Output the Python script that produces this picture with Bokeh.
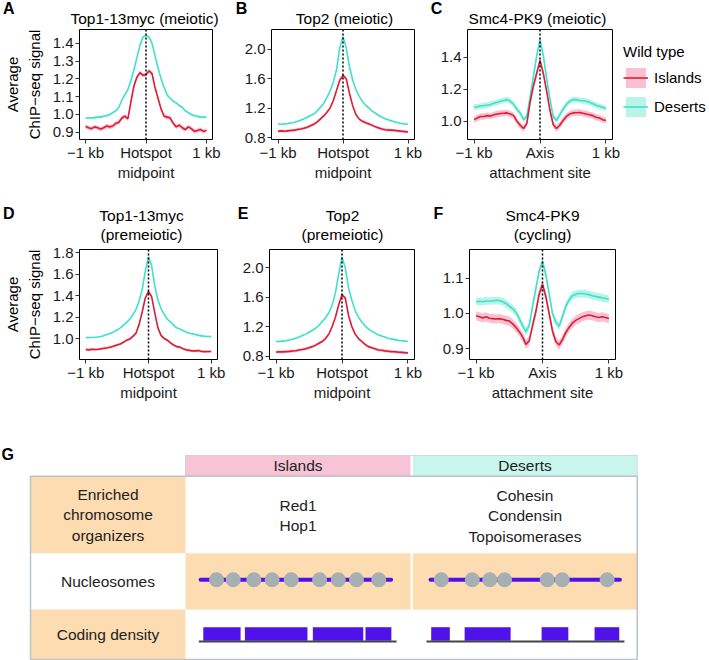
import numpy as np
from bokeh.plotting import figure
from bokeh.layouts import column, row
from bokeh.models import (Range1d, FixedTicker, PrintfTickFormatter, Span, Spacer,
                          Legend, LegendItem, ColumnDataSource)
from bokeh.core.properties import value
from bokeh.embed import file_html
from bokeh.resources import INLINE

FONT = "Liberation Sans"
TF = value(FONT)
W = 709

# ---------------- data ----------------
POS = [-1000 + 50 * i for i in range(41)]  # bp from hotspot / axis site

A_ISL = [0.932, 0.925, 0.92, 0.93, 0.925, 0.918, 0.925, 0.935, 0.93, 0.935,
         0.95, 0.955, 0.98, 0.99, 0.975, 1.07, 1.16, 1.21, 1.235, 1.22,
         1.225,
         1.245, 1.23, 1.15, 1.09, 1.03, 0.99, 0.985, 0.98, 0.95, 0.93,
         0.94, 0.925, 0.915, 0.93, 0.92, 0.905, 0.91, 0.915, 0.905, 0.91]
A_DES = [0.98, 0.98, 0.98, 0.982, 0.985, 0.985, 0.99, 0.993, 1.0, 1.01,
         1.02, 1.04, 1.08, 1.11, 1.14, 1.19, 1.25, 1.32, 1.39, 1.435,
         1.445,
         1.435, 1.40, 1.33, 1.26, 1.20, 1.15, 1.11, 1.09, 1.075, 1.065,
         1.05, 1.04, 1.02, 1.01, 1.0, 0.993, 0.99, 0.985, 0.985, 0.984]

B_ISL = [0.885, 0.89, 0.885, 0.89, 0.895, 0.9, 0.91, 0.915, 0.925, 0.94,
         0.96, 0.98, 1.01, 1.05, 1.09, 1.14, 1.2, 1.3, 1.44, 1.58,
         1.645,
         1.6, 1.4, 1.23, 1.11, 1.05, 1.02, 1.0, 0.985, 0.965, 0.945,
         0.93, 0.915, 0.905, 0.9, 0.9, 0.895, 0.89, 0.885, 0.88, 0.875]
B_DES = [0.98, 0.98, 0.985, 0.99, 1.0, 1.005, 1.02, 1.035, 1.055, 1.075,
         1.1, 1.12, 1.16, 1.21, 1.26, 1.34, 1.43, 1.55, 1.72, 2.02,
         2.17,
         2.02, 1.76, 1.58, 1.45, 1.36, 1.29, 1.24, 1.2, 1.16, 1.13,
         1.1, 1.075, 1.055, 1.04, 1.025, 1.01, 1.0, 0.99, 0.985, 0.98]

C_ISL = [1.01, 1.02, 1.03, 1.03, 1.035, 1.032, 1.04, 1.045, 1.048, 1.05,
         1.052, 1.045, 1.035, 1.0, 0.975, 0.955, 0.985, 1.12, 1.22, 1.30,
         1.38,
         1.30, 1.19, 1.07, 0.98, 0.955, 0.975, 1.005, 1.03, 1.045, 1.052,
         1.053, 1.055, 1.05, 1.045, 1.04, 1.035, 1.025, 1.02, 1.01, 1.004]
C_DES = [1.088, 1.09, 1.095, 1.098, 1.1, 1.105, 1.112, 1.118, 1.125, 1.13,
         1.135, 1.125, 1.105, 1.075, 1.05, 1.01, 1.03, 1.15, 1.28, 1.41,
         1.51,
         1.41, 1.27, 1.14, 1.03, 1.005, 1.04, 1.075, 1.105, 1.125, 1.135,
         1.135, 1.13, 1.128, 1.125, 1.118, 1.11, 1.1, 1.093, 1.087, 1.08]

D_ISL = [0.898, 0.895, 0.9, 0.898, 0.9, 0.905, 0.91, 0.915, 0.922, 0.93,
         0.94, 0.95, 0.965, 0.985, 0.995, 1.02, 1.05, 1.13, 1.25, 1.38,
         1.44,
         1.39, 1.24, 1.1, 1.03, 1.0, 0.985, 0.96, 0.94, 0.925, 0.92,
         0.905, 0.895, 0.89, 0.885, 0.885, 0.888, 0.88, 0.878, 0.88, 0.88]
D_DES = [1.01, 1.01, 1.01, 1.012, 1.015, 1.02, 1.03, 1.04, 1.05, 1.065,
         1.08, 1.1, 1.125, 1.15, 1.18, 1.22, 1.27, 1.35, 1.46, 1.63,
         1.76,
         1.68, 1.49, 1.36, 1.28, 1.225, 1.18, 1.155, 1.125, 1.1, 1.09,
         1.075, 1.06, 1.05, 1.045, 1.038, 1.03, 1.025, 1.022, 1.02, 1.018]

E_ISL = [0.855, 0.86, 0.858, 0.862, 0.865, 0.87, 0.875, 0.885, 0.89, 0.9,
         0.915, 0.93, 0.95, 0.975, 1.0, 1.04, 1.1, 1.2, 1.33, 1.5,
         1.635,
         1.59, 1.35, 1.2, 1.1, 1.04, 1.0, 0.96, 0.93, 0.915, 0.9,
         0.885, 0.88, 0.872, 0.868, 0.862, 0.86, 0.855, 0.852, 0.848, 0.845]
E_DES = [1.0, 1.0, 1.005, 1.01, 1.02, 1.03, 1.045, 1.06, 1.08, 1.1,
         1.125, 1.15, 1.18, 1.22, 1.27, 1.32, 1.39, 1.49, 1.66, 1.92,
         2.15,
         2.0, 1.72, 1.56, 1.42, 1.33, 1.265, 1.21, 1.17, 1.14, 1.115,
         1.09, 1.075, 1.06, 1.045, 1.035, 1.025, 1.015, 1.01, 1.005, 1.0]

F_ISL = [0.993, 0.99, 0.987, 0.99, 0.986, 0.985, 0.984, 0.985, 0.983, 0.98,
         0.978, 0.97, 0.96, 0.948, 0.933, 0.912, 0.922, 0.965, 1.005, 1.055,
         1.082,
         1.048, 1.0, 0.95, 0.92, 0.91, 0.925, 0.945, 0.96, 0.972, 0.98,
         0.985, 0.99, 0.993, 0.995, 0.993, 0.99, 0.988, 0.99, 0.988, 0.985]
F_DES = [1.033, 1.034, 1.033, 1.035, 1.035, 1.035, 1.037, 1.036, 1.033, 1.028,
         1.02, 1.013, 1.003, 0.985, 0.965, 0.948, 0.965, 1.02, 1.07, 1.12,
         1.147,
         1.11, 1.055, 1.0, 0.975, 0.963, 0.99, 1.02, 1.038, 1.05, 1.054,
         1.056, 1.056, 1.055, 1.053, 1.05, 1.048, 1.046, 1.044, 1.042, 1.04]

# standard-error half widths of the ribbons (Islands, Deserts)
SE = {"A": (0.012, 0.006), "B": (0.02, 0.01), "C": (0.02, 0.018),
      "D": (0.012, 0.006), "E": (0.02, 0.01), "F": (0.013, 0.011)}

LETTERS = ["A", "B", "C", "D", "E", "F"]
TITLES = ["Top1-13myc (meiotic)", "Top2 (meiotic)", "Smc4-PK9 (meiotic)",
          "Top1-13myc\n(premeiotic)", "Top2\n(premeiotic)", "Smc4-PK9\n(cycling)"]
MID_LABELS = ["Hotspot\nmidpoint", "Hotspot\nmidpoint", "Axis\nattachment site"] * 2
Y_LABEL = "Average\nChIP\u2212seq signal"
LEGEND_TITLE = "Wild type"
SERIES = ["Islands", "Deserts"]

ISL_LINE, ISL_FILL = "#DC1E32", "#F4A6C0"
DES_LINE, DES_FILL = "#40E0D0", "#7FEBD3"

# ---------------- panel layout ----------------
ROW1_H, ROW2_H = 167, 177
SPECS = [
    dict(key="A", isl=A_ISL, des=A_DES, yr=(0.859, 1.478), ticks=[0.9, 1.0, 1.1, 1.2, 1.3, 1.4],
         w=233, h=ROW1_H, bl=73, br=21, bt=1, bb=56, ylabel=True),
    dict(key="B", isl=B_ISL, des=B_DES, yr=(0.773, 2.27), ticks=[0.8, 1.2, 1.6, 2.0],
         w=197, h=ROW1_H, bl=38, br=16, bt=1, bb=56, ylabel=False),
    dict(key="C", isl=C_ISL, des=C_DES, yr=(0.886, 1.573), ticks=[1.0, 1.2, 1.4],
         w=192, h=ROW1_H, bl=37, br=10, bt=1, bb=56, ylabel=False),
    dict(key="D", isl=D_ISL, des=D_DES, yr=(0.805, 1.83), ticks=[1.0, 1.2, 1.4, 1.6, 1.8],
         w=233, h=ROW2_H, bl=72, br=16, bt=6, bb=61, ylabel=True),
    dict(key="E", isl=E_ISL, des=E_DES, yr=(0.755, 2.25), ticks=[0.8, 1.2, 1.6, 2.0],
         w=197, h=ROW2_H, bl=36, br=16, bt=6, bb=61, ylabel=False),
    dict(key="F", isl=F_ISL, des=F_DES, yr=(0.869, 1.181), ticks=[0.9, 1.0, 1.1],
         w=279, h=ROW2_H, bl=39, br=94, bt=6, bb=61, ylabel=False),
]
LEGEND_W = W - sum(s["w"] for s in SPECS[:3])
LEGEND_TOP = 14


def blank(width, height):
    f = figure(width=width, height=height, x_range=Range1d(0, width), y_range=Range1d(height, 0),
               output_backend="svg", toolbar_location=None, title=None,
               x_axis_type=None, y_axis_type=None,
               min_border_left=0, min_border_right=0, min_border_top=0, min_border_bottom=0)
    f.outline_line_color = None
    f.background_fill_color = "white"
    f.border_fill_color = "white"
    f.grid.visible = False
    return f


def make_panel(i, s):
    p = figure(width=s["w"], height=s["h"], x_range=Range1d(-1100, 1100),
               y_range=Range1d(*s["yr"]), output_backend="svg", toolbar_location=None,
               title=None, min_border_left=s["bl"], min_border_right=s["br"],
               min_border_top=s["bt"], min_border_bottom=s["bb"])
    p.outline_line_color = "black"
    p.outline_line_width = 1
    p.grid.visible = False
    p.background_fill_color = "white"
    p.border_fill_color = "white"

    for ax in (p.xaxis[0], p.yaxis[0]):
        ax.axis_line_color = None
        ax.major_tick_line_color = "#333333"
        ax.major_tick_out = 4
        ax.major_tick_in = 0
        ax.minor_tick_line_color = None
        ax.major_label_text_font = FONT
        ax.major_label_text_font_size = "15px"
        ax.major_label_text_color = "#1a1a1a"
        ax.major_label_standoff = 2
    p.xaxis.ticker = FixedTicker(ticks=[-1000, 0, 1000])
    p.xaxis.major_label_overrides = {-1000: "\u22121 kb", 0: MID_LABELS[i], 1000: "1 kb"}
    p.xaxis.major_label_standoff = 0
    p.yaxis.ticker = FixedTicker(ticks=s["ticks"])
    p.yaxis.formatter = PrintfTickFormatter(format="%.1f")
    if s["ylabel"]:
        p.yaxis.axis_label = Y_LABEL
        p.yaxis.axis_label_text_font = FONT
        p.yaxis.axis_label_text_font_size = "15px"
        p.yaxis.axis_label_text_font_style = "normal"
        p.yaxis.axis_label_text_color = "black"
        p.yaxis.axis_label_text_line_height = 1.3
        p.yaxis.axis_label_standoff = 7

    se_i, se_d = SE[s["key"]]
    src_i = ColumnDataSource(dict(x=POS, y=s["isl"],
                                  lo=[v - se_i for v in s["isl"]], hi=[v + se_i for v in s["isl"]]))
    src_d = ColumnDataSource(dict(x=POS, y=s["des"],
                                  lo=[v - se_d for v in s["des"]], hi=[v + se_d for v in s["des"]]))
    p.varea(x="x", y1="lo", y2="hi", source=src_d, fill_color=DES_FILL, fill_alpha=0.55)
    p.varea(x="x", y1="lo", y2="hi", source=src_i, fill_color=ISL_FILL, fill_alpha=0.7)
    p.line(x="x", y="y", source=src_d, line_color=DES_LINE, line_width=1.6)
    p.line(x="x", y="y", source=src_i, line_color=ISL_LINE, line_width=1.6)

    p.add_layout(Span(location=0, dimension="height", line_color="black",
                      line_width=1.5, line_dash="2 2"))
    return p


panels = [make_panel(i, s) for i, s in enumerate(SPECS)]

# ---------------- legend (own canvas; key renderers carry no visible data) ----------------
lg = blank(LEGEND_W, ROW1_H - LEGEND_TOP)
nodata = dict(x=np.array([np.nan]), y=np.array([np.nan]),
              lo=np.array([np.nan]), hi=np.array([np.nan]))
k_bi = lg.varea(x="x", y1="lo", y2="hi", source=ColumnDataSource(nodata),
                fill_color=ISL_FILL, fill_alpha=0.7)
k_li = lg.line(x="x", y="y", source=ColumnDataSource(nodata), line_color=ISL_LINE, line_width=1.6)
k_bd = lg.varea(x="x", y1="lo", y2="hi", source=ColumnDataSource(nodata),
                fill_color=DES_FILL, fill_alpha=0.55)
k_ld = lg.line(x="x", y="y", source=ColumnDataSource(nodata), line_color=DES_LINE, line_width=1.6)
legend = Legend(items=[LegendItem(label=SERIES[0], renderers=[k_bi, k_li]),
                       LegendItem(label=SERIES[1], renderers=[k_bd, k_ld])],
                title=LEGEND_TITLE, location="top_left",
                glyph_width=25, glyph_height=25, label_height=25, spacing=4,
                padding=0, margin=1, label_standoff=6, title_standoff=5,
                border_line_color=None, background_fill_alpha=0,
                label_text_font=FONT, label_text_font_size="15px",
                title_text_font=FONT, title_text_font_size="15px",
                title_text_font_style="normal", title_text_color="black",
                label_text_color="black")
lg.add_layout(legend)
legend_col = column(Spacer(width=LEGEND_W, height=LEGEND_TOP), lg)

# ---------------- title strips ----------------
STRIP1_H, STRIP2_H = 28, 48
LETTER_X = [8.3, 241, 436, 8.3, 242.5, 438]
LETTER_Y = [8, 8, 8, 18.3, 18.3, 18.3]
TITLE_X = [144, 344, 537, 141, 342, 542]
TITLE_Y = [18, 18, 18, 29.2, 29.2, 29.2]

strips = []
for k, h in enumerate([STRIP1_H, STRIP2_H]):
    st = blank(W, h)
    idx = [3 * k, 3 * k + 1, 3 * k + 2]
    st.text(x=[LETTER_X[j] for j in idx], y=[LETTER_Y[j] for j in idx],
            text=[LETTERS[j] for j in idx], text_font=TF, text_font_size="16px",
            text_font_style="bold", text_align="center", text_baseline="middle",
            text_color="black")
    st.text(x=[TITLE_X[j] for j in idx], y=[TITLE_Y[j] for j in idx],
            text=[TITLES[j] for j in idx], text_font=TF, text_font_size="15.5px",
            text_align="center", text_baseline="middle", text_line_height=1.13,
            text_color="black")
    strips.append(st)

# ---------------- panel G (schematic table) ----------------
ROW_LABELS = ["Enriched\nchromosome\norganizers", "Nucleosomes", "Coding density"]
FACTORS = ["Red1\nHop1", "Cohesin\nCondensin\nTopoisomerases"]
# positions along each schematic region (0-1000 arbitrary units)
ISL_NUC = [138, 212, 304, 385, 470, 596, 679, 760, 859]
DES_NUC = [127, 265, 343, 409, 599, 666, 866]
ISL_DNA = [67, 914]
DES_DNA = [79, 923]
ISL_GENE_START = [79, 264, 566, 800]
ISL_GENE_END = [245, 542, 790, 915]
DES_GENE_START = [82, 231, 574, 810]
DES_GENE_END = [165, 436, 693, 920]
ISL_CHROM = [59, 938]
DES_CHROM = [61, 943]

ORANGE, PINK, CYAN, GRID = "#FCDCB0", "#F8C3D5", "#C9F6EC", "#BAC4C9"
PURPLE, NUC = "#4F12EA", "#A6AFB4"

G_H = 660 - STRIP1_H - ROW1_H - STRIP2_H - ROW2_H
g = blank(W, G_H)
GY = 240 - G_H  # shift so the table keeps its reference placement

# table geometry (layout)
LX0, LX1 = 30.0, 185.0
CX0 = [185.0, 412.3]
CW = [225.0, 224.4]
HY0, HY1 = 35.0 - GY, 55.7 - GY
RY = [55.7 - GY, 132.7 - GY, 189.0 - GY, 239.0 - GY]

g.quad(left=[CX0[0], CX0[1]], right=[CX0[0] + CW[0], CX0[1] + CW[1]],
       top=[HY0, HY0], bottom=[HY1, HY1], fill_color=[PINK, CYAN], line_color=None)
g.quad(left=[LX0, CX0[0], CX0[1], LX0], right=[LX1, CX0[0] + CW[0], CX0[1] + CW[1], LX1],
       top=[RY[0], RY[1], RY[1], RY[2]], bottom=[RY[1], RY[2], RY[2], RY[3]],
       fill_color=ORANGE, line_color=None)
g.quad(left=[LX0], right=[CX0[1] + CW[1]], top=[RY[0]], bottom=[RY[3]],
       fill_color=None, line_color=GRID, line_width=1.5)
g.quad(left=[CX0[0]], right=[CX0[1] + CW[1]], top=[HY0], bottom=[HY1],
       fill_color=None, line_color=GRID, line_width=1.0, line_alpha=0.6)

g.text(x=[CX0[i] + CW[i] / 2 for i in range(2)], y=[(HY0 + HY1) / 2] * 2,
       text=SERIES, text_font=TF, text_font_size="15.5px", text_align="center",
       text_baseline="middle", text_color="#222222")
g.text(x=[(LX0 + LX1) / 2] * 3, y=[(RY[i] + RY[i + 1]) / 2 for i in range(3)],
       text=ROW_LABELS, text_font=TF, text_font_size="15.5px", text_align="center",
       text_baseline="middle", text_line_height=1.2, text_color="#222222")
g.text(x=[CX0[i] + CW[i] / 2 for i in range(2)], y=[(RY[0] + RY[1]) / 2 + 1] * 2,
       text=FACTORS, text_font=TF, text_font_size="15.5px", text_align="center",
       text_baseline="middle", text_line_height=1.2, text_color="#222222")
g.text(x=[7.2], y=[34.2 - GY], text=["G"], text_font=TF, text_font_size="16px",
       text_font_style="bold", text_align="center", text_baseline="middle", text_color="black")


def rx(i, v):
    return CX0[i] + v / 1000 * CW[i]


NUC_Y = 159.3 - GY
for i, (dna, nuc) in enumerate([(ISL_DNA, ISL_NUC), (DES_DNA, DES_NUC)]):
    g.line(x=[rx(i, v) for v in dna], y=[NUC_Y, NUC_Y], line_color=PURPLE, line_width=4,
           line_cap="round")
    g.scatter(x=[rx(i, v) for v in nuc], y=[NUC_Y] * len(nuc), size=15,
              fill_color=NUC, line_color=None)

BAR_TOP, BASE_Y = 206.7 - GY, 220.2 - GY
for i, (cs, st_, en) in enumerate([(ISL_CHROM, ISL_GENE_START, ISL_GENE_END),
                                    (DES_CHROM, DES_GENE_START, DES_GENE_END)]):
    g.quad(left=[rx(i, v) for v in st_], right=[rx(i, v) for v in en],
           top=[BAR_TOP] * len(st_), bottom=[BASE_Y] * len(st_),
           fill_color=PURPLE, line_color=None)
    g.line(x=[rx(i, v) for v in cs], y=[BASE_Y + 0.8] * 2, line_color="#444444", line_width=2)

layout = column(strips[0],
                row(panels[0], panels[1], panels[2], legend_col),
                strips[1],
                row(panels[3], panels[4], panels[5]),
                g)

open("out.html", "w").write(file_html(layout, INLINE))
